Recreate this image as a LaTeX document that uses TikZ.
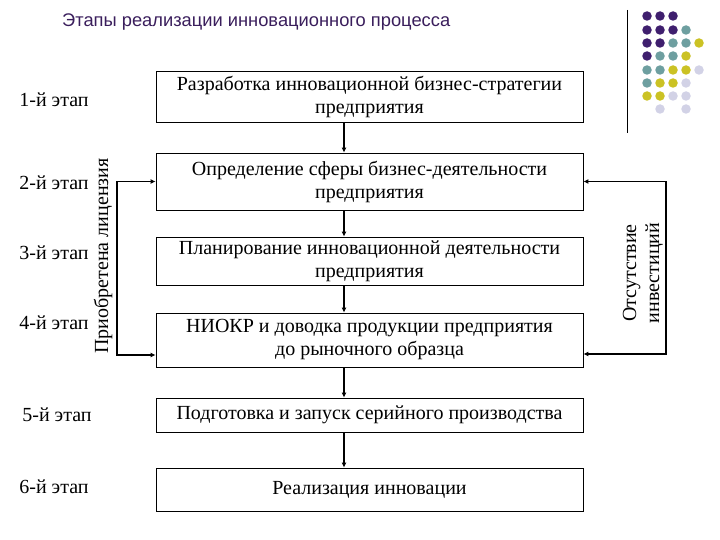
\documentclass[tikz,border=0pt]{standalone}
\usepackage{fontspec}
\setmainfont{Liberation Serif}
\newfontfamily\titlefont{Liberation Sans}
\usetikzlibrary{arrows.meta}
\definecolor{ttl}{HTML}{3A1E5C}
\definecolor{dpurple}{HTML}{3F1F6E}
\definecolor{dteal}{HTML}{6E9FA0}
\definecolor{dyellow}{HTML}{CBC224}
\definecolor{dlav}{HTML}{D2D2E6}
\tikzset{
  stage/.style={draw, line width=0.8pt, minimum width=427pt, inner sep=1pt, align=center, font=\fontsize{20}{23}\selectfont},
  lbl/.style={font=\fontsize{20}{23}\selectfont, inner sep=0pt},
  arr/.style={line width=1.3pt, -{Latex[length=5pt,width=5pt]}},
  barr/.style={line width=1.3pt, {Latex[length=5pt,width=5pt]}-{Latex[length=5pt,width=5pt]}},
  dot/.style={circle, minimum size=9.5pt, inner sep=0pt, draw=none}
}
\begin{document}
\begin{tikzpicture}[x=1pt,y=-1pt]
\useasboundingbox (0,0) rectangle (720,540);
\node[font=\titlefont\fontsize{18.3}{20}\selectfont, text=ttl, anchor=west, inner sep=0pt] (title) at (62,22) {Этапы реализации инновационного процесса};
% top right decoration
\draw[line width=1pt] (627,10) coordinate (vt) -- (627,133) coordinate (vb);
\foreach \r/\y/\list in {1/16/{1/dpurple,2/dpurple,3/dpurple},
  2/30/{1/dpurple,2/dpurple,3/dpurple,4/dteal},
  3/43/{1/dpurple,2/dpurple,3/dteal,4/dteal,5/dyellow},
  4/56/{1/dpurple,2/dteal,3/dteal,4/dyellow},
  5/70/{1/dteal,2/dteal,3/dyellow,4/dyellow,5/dlav},
  6/83/{1/dteal,2/dyellow,3/dyellow,4/dlav},
  7/96/{1/dyellow,2/dyellow,3/dlav,4/dlav},
  8/109/{2/dlav,4/dlav}}{
  \foreach \c/\col in \list {
    \node[dot, fill=\col] (d\r\c) at ({634+13*\c},\y) {};
  }
}
% boxes
\node[stage, minimum height=51pt] (b1) at (369.5,96.5) {Разработка инновационной бизнес-стратегии\\предприятия};
\node[stage, minimum height=57pt] (b2) at (369.5,181.5) {Определение сферы бизнес-деятельности\\предприятия};
\node[stage, minimum height=48pt] (b3) at (369.5,261) {Планирование инновационной деятельности\\предприятия};
\node[stage, minimum height=54pt] (b4) at (369.5,340) {НИОКР и доводка продукции предприятия\\до рыночного образца};
\node[stage, minimum height=34pt] (b5) at (369.5,415) {Подготовка и запуск серийного производства};
\node[stage, minimum height=43pt] (b6) at (369.5,489.5) {Реализация инновации};
% stage labels
\node[lbl] (s1) at (54,100) {1-й этап};
\node[lbl] (s2) at (54,183) {2-й этап};
\node[lbl] (s3) at (54,253) {3-й этап};
\node[lbl] (s4) at (54,323) {4-й этап};
\node[lbl] (s5) at (57,415) {5-й этап};
\node[lbl] (s6) at (54,487) {6-й этап};
% vertical arrows
\coordinate (ax) at (344,0);
\draw[arr] (b1.south -| ax) -- (b2.north -| ax);
\draw[arr] (b2.south -| ax) -- (b3.north -| ax);
\draw[arr] (b3.south -| ax) -- (b4.north -| ax);
\draw[arr] (b4.south -| ax) -- (b5.north -| ax);
\draw[arr] (b5.south -| ax) -- (b6.north -| ax);
% left feedback
\coordinate (lt) at (117,181.5);
\coordinate (lb) at (117,355);
\draw[barr] (b2.west) -- (lt) -- (lb) -- (b4.west |- lb);
\node[lbl, rotate=90] (lic) at (103,256) {Приобретена лицензия};
% right feedback
\coordinate (rt) at (666,181.5);
\coordinate (rb) at (666,354);
\draw[barr] (b2.east) -- (rt) -- (rb) -- (b4.east |- rb);
\node[lbl, rotate=90, align=center] (inv) at (643,273) {Отсутствие\\инвестиций};
\end{tikzpicture}
\end{document}
